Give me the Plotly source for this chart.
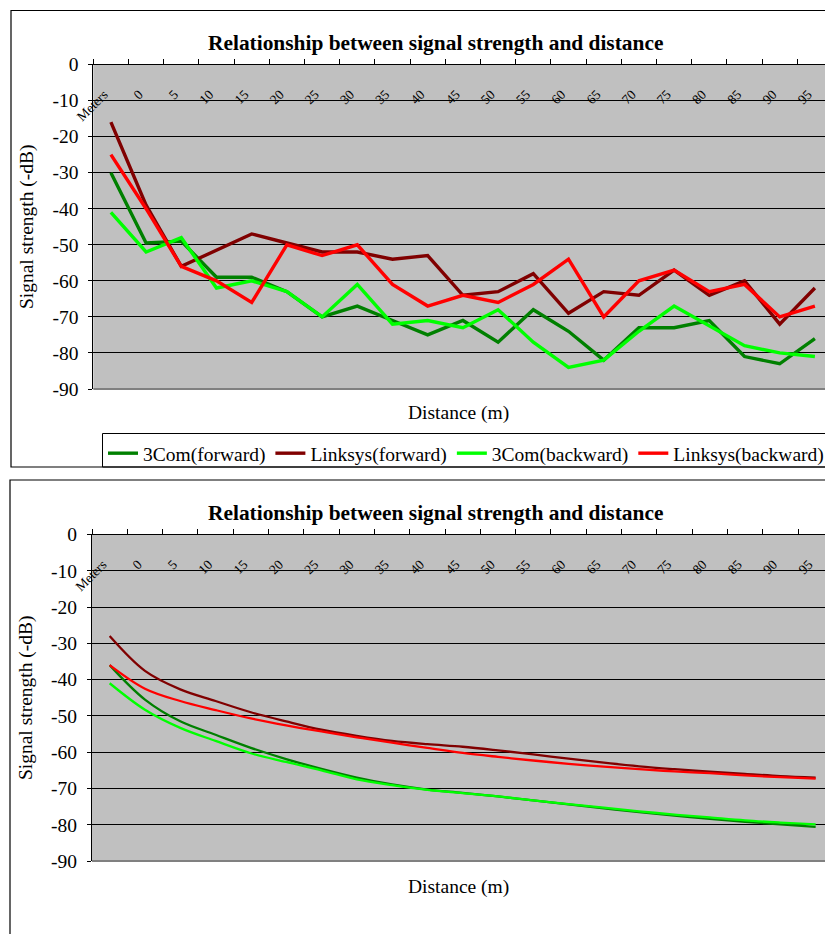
import plotly.graph_objects as go

categories = ["Meters", "0", "5", "10", "15", "20", "25", "30", "35", "40", "45",
              "50", "55", "60", "65", "70", "75", "80", "85", "90", "95"]
y_tick_values = [0, -10, -20, -30, -40, -50, -60, -70, -80, -90]
y_tick_labels = ["0", "-10", "-20", "-30", "-40", "-50", "-60", "-70", "-80", "-90"]

# Top chart (measured)
threecom_fwd = [-30, -49.5, -49, -59, -59, -63, -70, -67, -71, -75, -71, -77, -68, -74, -82, -73, -73, -71, -81, -83, -76]
linksys_fwd = [-16, -39, -56, -51.5, -47, -49.5, -52, -52, -54, -53, -64, -63, -58, -69, -63, -64, -57, -64, -60, -72, -62]
threecom_back = [-41, -52, -48, -62, -60, -63, -70, -61, -72, -71, -73, -68, -77, -84, -82, -74, -67, -72.5, -78, -80, -81]
linksys_back = [-25, -40, -56, -60, -66, -50, -53, -50, -61, -67, -64, -66, -61, -54, -70, -60, -57, -63, -61, -70, -67]

# Bottom chart (trend)
threecom_fwd_trend = [-36, -45.5, -51.5, -55.2, -58.8, -61.9, -64.6, -67.0, -68.9, -70.3, -71.2, -72.2, -73.3, -74.4, -75.5, -76.5, -77.5, -78.4, -79.2, -79.9, -80.6]
linksys_fwd_trend = [-28, -37.6, -42.7, -45.9, -49.0, -51.5, -53.8, -55.5, -56.9, -57.8, -58.5, -59.5, -60.6, -61.8, -62.9, -63.9, -64.7, -65.4, -66.0, -66.6, -67.0]
threecom_back_trend = [-41, -48.3, -53.3, -56.9, -60.3, -62.7, -65.0, -67.5, -69.1, -70.4, -71.3, -72.2, -73.3, -74.3, -75.3, -76.3, -77.2, -78.0, -78.8, -79.4, -79.9]
linksys_back_trend = [-36, -42.5, -45.9, -48.4, -50.7, -52.6, -54.3, -55.9, -57.4, -58.8, -60.2, -61.3, -62.3, -63.2, -64.0, -64.7, -65.3, -65.8, -66.4, -66.9, -67.3]

names = ["3Com(forward)", "Linksys(forward)", "3Com(backward)", "Linksys(backward)"]
colors = ["#008000", "#800000", "#00FF00", "#FF0000"]
top_series = [threecom_fwd, linksys_fwd, threecom_back, linksys_back]
bottom_series = [threecom_fwd_trend, linksys_fwd_trend, threecom_back_trend, linksys_back_trend]

W, H = 825, 934
FONT = "Liberation Serif"
FS = 19.5


def px(x):
    return x / W


def py(y):
    return 1 - y / H


fig = go.Figure()
for n, c, s in zip(names, colors, top_series):
    fig.add_trace(go.Scatter(x=categories, y=s, mode="lines", name=n,
                             line=dict(color=c, width=3.4), xaxis="x", yaxis="y"))
for n, c, s in zip(names, colors, bottom_series):
    fig.add_trace(go.Scatter(x=categories, y=s, mode="lines", name=n, showlegend=False,
                             line=dict(color=c, width=2.3, shape="spline"), xaxis="x2", yaxis="y2"))

panels = [
    dict(x0=93.3, sp=35.2, ytop=64.5, ybot=389.0),
    dict(x0=92.0, sp=35.3, ytop=534.5, ybot=861.0),
]

xcommon = dict(type="category", categoryorder="array", categoryarray=categories,
               side="top", tickson="boundaries", ticks="outside", ticklen=5,
               tickcolor="black", showline=True, linecolor="black", linewidth=1,
               showticklabels=False, showgrid=False, zeroline=False, automargin=False,
               fixedrange=True)
xlabels = dict(type="category", categoryorder="array", categoryarray=categories,
               side="bottom", ticks="", showline=False, showgrid=False, zeroline=False,
               automargin=False, tickangle=-45, anchor="free",
               tickfont=dict(family=FONT, size=13.5, color="black"), fixedrange=True)
ycommon = dict(range=[-90, 0], tickvals=y_tick_values, ticktext=y_tick_labels,
               showgrid=True, gridcolor="black", gridwidth=1,
               showline=True, linecolor="black", linewidth=1, ticks="outside", ticklen=4,
               tickcolor="black", zeroline=False, automargin=False, fixedrange=True,
               ticklabelstandoff=6,
               tickfont=dict(family=FONT, size=FS, color="black"),
               title=dict(text="Signal strength (-dB)", font=dict(family=FONT, size=FS, color="black"),
                          standoff=13))

layout = dict(width=W, height=H, autosize=False,
              margin=dict(l=0, r=0, t=0, b=0, pad=0, autoexpand=False),
              paper_bgcolor="white", plot_bgcolor="#C0C0C0", showlegend=True,
              font=dict(family=FONT, color="black"))
for i, p in enumerate(panels):
    sfx = "" if i == 0 else str(i + 1)
    lab = str(i + 3)
    xr = [-0.5, -0.5 + (W - p["x0"]) / p["sp"]]
    shift = 7.0 / p["sp"]
    layout["xaxis" + sfx] = dict(xcommon, domain=[px(p["x0"]), 1], range=xr, anchor="y" + sfx)
    layout["xaxis" + lab] = dict(xlabels, domain=[px(p["x0"]), 1], range=[xr[0] + shift, xr[1] + shift],
                                 overlaying="x" + sfx, position=py(p["ytop"] + 18.5))
    layout["yaxis" + sfx] = dict(ycommon, domain=[py(p["ybot"]), py(p["ytop"])], anchor="x" + sfx)

fig.update_layout(**layout)

# invisible traces so the label axes carry the categories
for lab, ya in [("x3", "y"), ("x4", "y2")]:
    fig.add_trace(go.Scatter(x=categories, y=[None] * len(categories), mode="lines",
                             showlegend=False, hoverinfo="skip", xaxis=lab, yaxis=ya))

fig.update_layout(legend=dict(orientation="h", x=px(103), y=py(434), xanchor="left", yanchor="top",
                              font=dict(family=FONT, size=FS, color="black"), itemwidth=30,
                              bgcolor="rgba(0,0,0,0)", borderwidth=0, tracegroupgap=0))

shapes = [
    dict(type="rect", xref="paper", yref="paper", x0=px(11), x1=1.05, y0=py(467), y1=py(10.5),
         line=dict(color="black", width=1.2)),
    dict(type="rect", xref="paper", yref="paper", x0=px(10), x1=1.05, y0=-0.05, y1=py(480),
         line=dict(color="black", width=1.2)),
    dict(type="rect", xref="paper", yref="paper", x0=px(102.5), x1=1.05, y0=py(467), y1=py(433.5),
         line=dict(color="black", width=1)),
]
for p in panels:
    shapes.append(dict(type="line", xref="paper", yref="paper", x0=px(p["x0"]), x1=1,
                       y0=py(p["ybot"]), y1=py(p["ybot"]), line=dict(color="#808080", width=2)))
fig.update_layout(shapes=shapes)

annotations = []
for ty, dy in [(43, 412.5), (513, 886.5)]:
    annotations.append(dict(text="<b>Relationship between signal strength and distance</b>",
                            xref="paper", yref="paper", x=px(436), y=py(ty), showarrow=False,
                            xanchor="center", yanchor="middle",
                            font=dict(family=FONT, size=21.4, color="black")))
    annotations.append(dict(text="Distance (m)", xref="paper", yref="paper", x=px(458), y=py(dy),
                            showarrow=False, xanchor="center", yanchor="middle",
                            font=dict(family=FONT, size=FS, color="black")))
fig.update_layout(annotations=annotations)

fig.write_html("out.html", config={"displayModeBar": False},
               post_script="document.body.style.margin='0px';")
